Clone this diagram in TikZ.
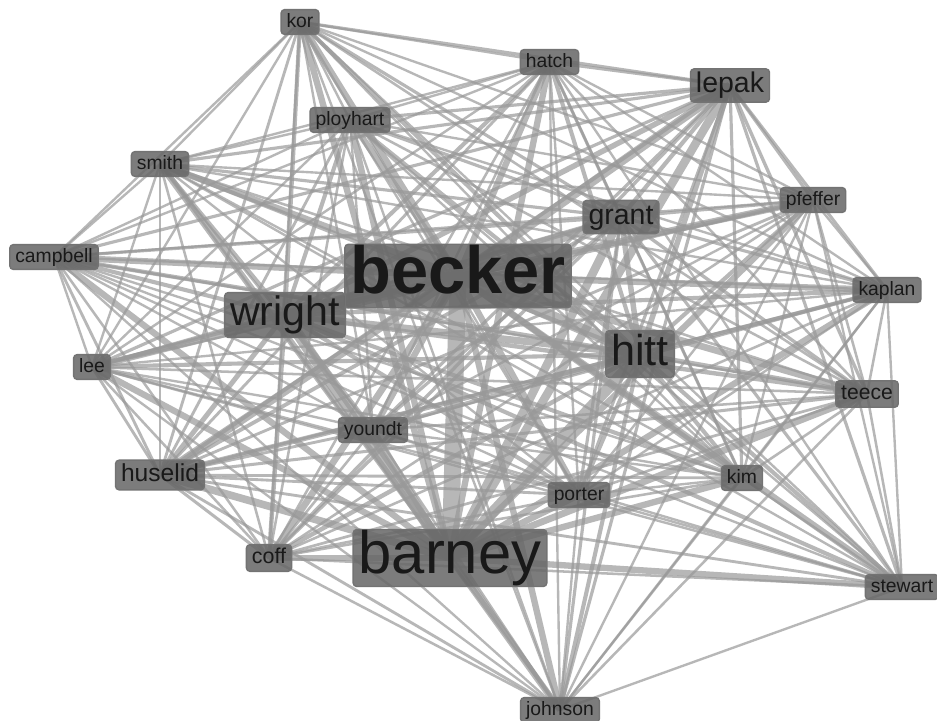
\documentclass[tikz,border=0pt]{standalone}
\usepackage{fontspec}
\setmainfont{Liberation Sans}
\usetikzlibrary{backgrounds}
\tikzstyle{autore} = [rectangle, rounded corners=1pt, draw=black!55, line width=0.4pt,
fill=black!60, fill opacity=0.85, text opacity=1, text=black!90,
inner xsep=0.055cm, inner ysep=0.035cm]
\tikzset{corpo/.style={font=\fontsize{#1}{#1}\selectfont,
  text height=0.72*#1pt, text depth=0.2*#1pt}}
\tikzstyle{piccolo} = [autore, corpo=5.5]
\tikzstyle{arco} = [draw=black!40, draw opacity=0.7]
% nome/peso di ogni autore
\def\autori{kor/1.5, hatch/1.5, lepak/2, ployhart/1.5, smith/1.5, pfeffer/1.5,
grant/2, campbell/1.5, becker/4, kaplan/1.5, wright/2.6, hitt/2.6, lee/1.5,
teece/1.6, youndt/1.5, huselid/1.8, kim/1.5, porter/1.5, coff/1.6, barney/4,
stewart/1.5, johnson/1.5}

\begin{document}
\begin{tikzpicture}
\useasboundingbox (0,0) rectangle (9.37,-7.21);
\node[piccolo] (kor) at (3.00,-0.22) {kor};
\node[piccolo] (hatch) at (5.495,-0.62) {hatch};
\node[autore, corpo=8.1] (lepak) at (7.30,-0.855) {lepak};
\node[piccolo] (ployhart) at (3.50,-1.20) {ployhart};
\node[piccolo] (smith) at (1.60,-1.64) {smith};
\node[piccolo] (pfeffer) at (8.13,-2.00) {pfeffer};
\node[autore, corpo=8.1] (grant) at (6.21,-2.17) {grant};
\node[piccolo] (campbell) at (0.54,-2.57) {campbell};
\node[autore, corpo=19, font=\fontsize{19}{19}\selectfont\bfseries, inner ysep=0.01cm] (becker) at (4.58,-2.76) {becker};
\node[piccolo] (kaplan) at (8.87,-2.90) {kaplan};
\node[autore, corpo=11.7] (wright) at (2.85,-3.15) {wright};
\node[autore, corpo=12.3] (hitt) at (6.40,-3.54) {hitt};
\node[piccolo] (lee) at (0.92,-3.67) {lee};
\node[autore, corpo=6] (teece) at (8.67,-3.94) {teece};
\node[piccolo] (youndt) at (3.73,-4.30) {youndt};
\node[autore, corpo=7] (huselid) at (1.60,-4.75) {huselid};
\node[piccolo] (kim) at (7.42,-4.78) {kim};
\node[piccolo] (porter) at (5.79,-4.95) {porter};
\node[autore, corpo=6.1] (coff) at (2.69,-5.58) {coff};
\node[autore, corpo=17, inner ysep=0.01cm] (barney) at (4.50,-5.58) {barney};
\node[piccolo] (stewart) at (9.02,-5.87) {stewart};
\node[piccolo] (johnson) at (5.60,-7.10) {johnson};
\begin{pgfonlayer}{background}
\fill[white] (0,0) rectangle (9.37,-7.21);
\foreach \a/\wa [count=\i] in \autori
  \foreach \b/\wb [count=\j] in \autori
  {
    \ifnum\j>\i
      \pgfmathsetmacro\lw{0.3*\wa*\wb}
      \draw[arco, line width=\lw pt] (\a.center) -- (\b.center);
    \fi
  }
\end{pgfonlayer}
\end{tikzpicture}
\end{document}
